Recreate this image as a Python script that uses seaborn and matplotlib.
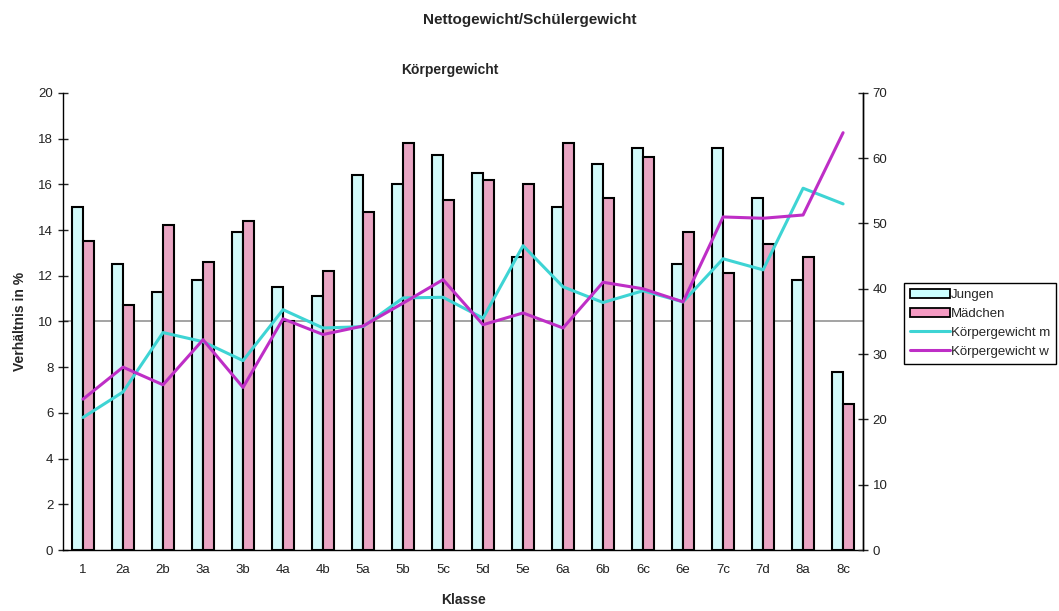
import numpy as np
import pandas as pd
import matplotlib
matplotlib.use("Agg")
import matplotlib.pyplot as plt
from matplotlib.lines import Line2D
from matplotlib.patches import Patch
import seaborn as sns

sns.set_theme(style="white")
plt.rcParams['font.family'] = ['Liberation Sans', 'DejaVu Sans']

klassen = ["1", "2a", "2b", "3a", "3b", "4a", "4b", "5a", "5b", "5c",
           "5d", "5e", "6a", "6b", "6c", "6e", "7c", "7d", "8a", "8c"]
jungen = [15.0, 12.5, 11.3, 11.8, 13.9, 11.5, 11.1, 16.4, 16.0, 17.3,
          16.5, 12.8, 15.0, 16.9, 17.6, 12.5, 17.6, 15.4, 11.8, 7.8]
maedchen = [13.5, 10.7, 14.2, 12.6, 14.4, 10.0, 12.2, 14.8, 17.8, 15.3,
            16.2, 16.0, 17.8, 15.4, 17.2, 13.9, 12.1, 13.4, 12.8, 6.4]
kg_m = [20.3, 24.2, 33.3, 31.9, 29.0, 36.8, 34.0, 34.2, 38.6, 38.7,
        35.5, 46.6, 40.3, 37.9, 39.7, 38.0, 44.6, 42.9, 55.4, 53.0]
kg_w = [23.1, 28.0, 25.3, 32.2, 24.9, 35.4, 33.0, 34.3, 37.8, 41.4,
        34.5, 36.3, 34.0, 41.0, 40.0, 38.0, 51.0, 50.8, 51.3, 63.9]

c_j = "#CCFFFF"
c_m = "#F49AC2"
c_lm = "#3ED4D4"
c_lw = "#BE2EC6"

df = pd.DataFrame({
    "Klasse": klassen * 2,
    "Wert": jungen + maedchen,
    "Gruppe": ["Jungen"] * len(klassen) + ["Mädchen"] * len(klassen),
})

fig = plt.figure(figsize=(10.59, 6.11), dpi=100)
ax = fig.add_axes([0.0595, 0.0998, 0.7555, 0.7482])

ax.axhline(10, color="#8a8a8a", linewidth=1.1, zorder=0.5)

sns.barplot(data=df, x="Klasse", y="Wert", hue="Gruppe", order=klassen,
            palette={"Jungen": c_j, "Mädchen": c_m}, width=0.56,
            edgecolor="black", linewidth=1.5, ax=ax, legend=False, errorbar=None)

ax.set_ylim(0, 20)
ax.set_xlim(-0.5, len(klassen) - 0.5)
ax.set_yticks(np.arange(0, 21, 2))
ax.set_xticks(np.arange(len(klassen)))
ax.set_xticklabels(klassen)
ax.set_xticks(np.arange(-0.5, len(klassen), 1.0), minor=True)
ax.tick_params(axis="x", which="major", length=0, pad=10, labelsize=9.5, colors="#222222")
ax.tick_params(axis="x", which="minor", length=7, direction="inout", width=1, color="black")
ax.tick_params(axis="y", length=7, direction="inout", width=1, labelsize=9.5,
               colors="#222222", left=True)
for s in ["left", "bottom", "right"]:
    ax.spines[s].set_visible(True)
    ax.spines[s].set_color("black")
    ax.spines[s].set_linewidth(1.0)
ax.spines["top"].set_visible(False)

ax2 = ax.twinx()
pos = np.arange(len(klassen))
sns.lineplot(x=pos, y=kg_m, color=c_lm, linewidth=2.2, ax=ax2)
sns.lineplot(x=pos, y=kg_w, color=c_lw, linewidth=2.2, ax=ax2)
ax2.set_ylim(0, 70)
ax2.set_yticks(np.arange(0, 71, 10))
ax2.tick_params(axis="y", length=7, direction="inout", width=1, labelsize=9.5,
                colors="#222222", right=True)
ax2.spines["top"].set_visible(False)
ax2.spines["left"].set_visible(False)
ax2.spines["bottom"].set_visible(False)
ax2.spines["right"].set_color("black")
ax2.spines["right"].set_linewidth(1.0)
ax2.set_xlim(-0.5, len(klassen) - 0.5)

ax.set_xlabel("Klasse", fontsize=10, fontweight="bold", labelpad=12,
              family=["Liberation Sans Narrow", "Liberation Sans"])
ax.set_ylabel("Verhältnis in %", fontsize=10, fontweight="bold", labelpad=8,
              family=["Liberation Sans Narrow", "Liberation Sans"])
ax2.set_ylabel("")

fig.text(0.5, 0.967, "Nettogewicht/Schülergewicht", ha="center", va="center",
         fontsize=11, fontweight="bold",
         family=["Liberation Sans Narrow", "Liberation Sans"])
fig.text(0.425, 0.885, "Körpergewicht", ha="center", va="center",
         fontsize=10, fontweight="bold",
         family=["Liberation Sans Narrow", "Liberation Sans"])

handles = [
    Patch(facecolor=c_j, edgecolor="black", linewidth=1.3),
    Patch(facecolor=c_m, edgecolor="black", linewidth=1.3),
    Line2D([0], [0], color=c_lm, linewidth=2.2),
    Line2D([0], [0], color=c_lw, linewidth=2.2),
]
labels = ["Jungen", "Mädchen", "Körpergewicht m", "Körpergewicht w"]
leg = fig.legend(handles, labels, loc="upper left", bbox_to_anchor=(0.854, 0.537),
                 fontsize=9.5, frameon=True, fancybox=False, framealpha=1,
                 edgecolor="black", handlelength=3.0, handleheight=0.7,
                 handletextpad=0.1, borderpad=0.45, labelspacing=0.5,
                 borderaxespad=0)
leg.get_frame().set_linewidth(1.0)

fig.savefig("out.png", dpi=100)
